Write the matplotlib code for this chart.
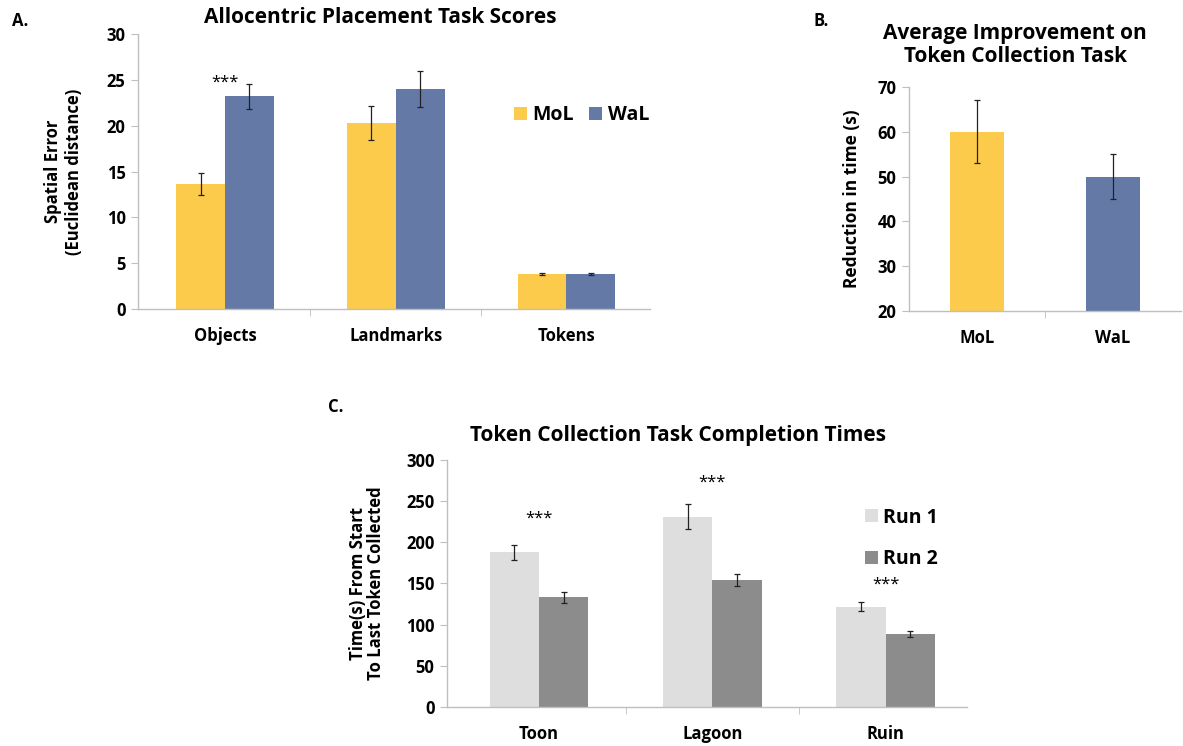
import matplotlib.pyplot as plt
import numpy as np

plt.rcParams['font.family'] = ['Open Sans', 'DejaVu Sans']
plt.rcParams['font.weight'] = 'bold'

# A. allocentric placement task
place_cats = ["Objects", "Landmarks", "Tokens"]
place_mol = [13.6, 20.3, 3.8]
place_mol_err = [1.2, 1.85, 0.1]
place_wal = [23.2, 24.0, 3.85]
place_wal_err = [1.4, 2.0, 0.1]

# B. average improvement
impr_groups = ["MoL", "WaL"]
impr_vals = [60, 50]
impr_err = [7, 5]

# C. token collection completion times
maps = ["Toon", "Lagoon", "Ruin"]
run1 = [188, 231, 122]
run1_err = [9, 15, 5]
run2 = [133, 154, 89]
run2_err = [7, 7, 3.5]
stars_y = [229, 273, 149]

YEL = "#FCCB4B"
BLU = "#6479A6"
LG = "#DEDEDE"
DG = "#8C8C8C"
AX = "#BFBFBF"

fig = plt.figure(figsize=(11.83, 7.46), dpi=100)


def style(ax, ncat):
    for s in ["top", "right"]:
        ax.spines[s].set_visible(False)
    for s in ["left", "bottom"]:
        ax.spines[s].set_color(AX)
        ax.spines[s].set_linewidth(1)
    ax.tick_params(axis="y", length=5, color=AX, labelsize=12, pad=4)
    ax.tick_params(axis="x", which="major", length=0, labelsize=12, pad=13)
    ax.set_xticks(np.arange(ncat - 1) + 0.5, minor=True)
    ax.tick_params(axis="x", which="minor", length=5, color=AX)
    for t in ax.get_yticklabels() + ax.get_xticklabels():
        t.set_fontweight("bold")


ekw = dict(ecolor="#222222", elinewidth=0.9, capsize=2.5, capthick=0.9)

# panel A
axA = fig.add_axes([0.1167, 0.5858, 0.4327, 0.3686])
x = np.arange(len(place_cats))
w = 0.286
axA.bar(x - w / 2, place_mol, w, color=YEL, yerr=place_mol_err, error_kw=ekw, label="MoL")
axA.bar(x + w / 2, place_wal, w, color=BLU, yerr=place_wal_err, error_kw=ekw, label="WaL")
axA.set_xlim(-0.51, 2.49)
axA.set_ylim(0, 30)
axA.set_yticks(range(0, 31, 5))
axA.set_xticks(x)
axA.set_xticklabels(place_cats)
style(axA, 3)
axA.text(0, 24.7, "***", ha="center", va="center", fontsize=12, fontweight="normal")
axA.set_ylabel("Spatial Error\n(Euclidean distance)", fontsize=12, fontweight="bold", labelpad=17)
axA.set_title("Allocentric Placement Task Scores", fontsize=15, fontweight="bold", pad=8, x=0.473)
axA.legend(loc="center left", bbox_to_anchor=(0.70, 0.705), ncol=2, frameon=False,
           handlelength=0.65, handleheight=0.65, handletextpad=0.3,
           columnspacing=0.8, prop={"weight": "bold", "size": 14})
fig.text(0.010, 0.965, "A.", fontsize=12, fontweight="bold")

# panel B
axB = fig.add_axes([0.7684, 0.5831, 0.2300, 0.3003])
xb = np.arange(len(impr_groups))
axB.bar(xb, impr_vals, 0.4, color=[YEL, BLU], yerr=impr_err, error_kw=ekw)
axB.set_xlim(-0.5, 1.5)
axB.set_ylim(20, 70)
axB.set_yticks(range(20, 71, 10))
axB.set_xticks(xb)
axB.set_xticklabels(impr_groups)
style(axB, 2)
axB.set_ylabel("Reduction in time (s)", fontsize=12.5, fontweight="bold", labelpad=12)
fig.text(0.858, 0.94, "Average Improvement on\nToken Collection Task", ha="center",
         va="center", fontsize=15, fontweight="bold", linespacing=1.1)
fig.text(0.688, 0.965, "B.", fontsize=12, fontweight="bold")

# panel C
axC = fig.add_axes([0.3779, 0.0523, 0.4396, 0.3311])
xc = np.arange(len(maps))
wc = 0.285
axC.bar(xc - wc / 2, run1, wc, color=LG, yerr=run1_err, error_kw=ekw, label="Run 1")
axC.bar(xc + wc / 2, run2, wc, color=DG, yerr=run2_err, error_kw=ekw, label="Run 2")
axC.set_xlim(-0.53, 2.47)
axC.set_ylim(0, 300)
axC.set_yticks(range(0, 301, 50))
axC.set_xticks(xc)
axC.set_xticklabels(maps)
style(axC, 3)
for xi, yi in zip(xc, stars_y):
    axC.text(xi, yi, "***", ha="center", va="center", fontsize=12, fontweight="normal")
axC.set_ylabel("Time(s) From Start\nTo Last Token Collected", fontsize=12,
               fontweight="bold", labelpad=15, linespacing=1.0)
axC.set_title("Token Collection Task Completion Times", fontsize=15, fontweight="bold",
              pad=14, x=0.445)
axC.legend(loc="center left", bbox_to_anchor=(0.77, 0.683), frameon=False,
           handlelength=0.65, handleheight=0.65, handletextpad=0.3, labelspacing=1.1,
           prop={"weight": "bold", "size": 14})
fig.text(0.277, 0.448, "C.", fontsize=12, fontweight="bold")

fig.savefig("out.png", dpi=100)
